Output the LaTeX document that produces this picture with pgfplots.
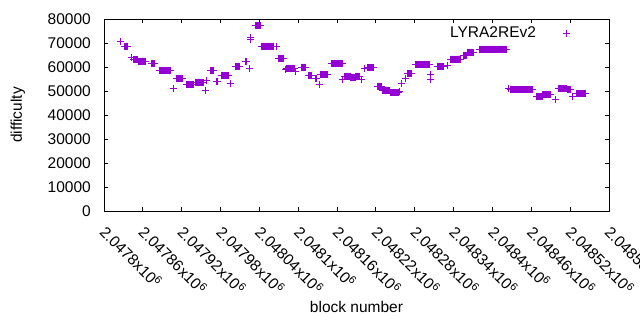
\documentclass[border=0pt]{standalone}
\usepackage{pgfplots}
\pgfplotsset{compat=1.18}
\usepackage{pgfplotstable}
\usepackage{fontspec}
\setmainfont{Liberation Sans}
\definecolor{dv}{RGB}{148,0,211}
\newcommand\F{\fontsize{15.5}{18}\selectfont}
% keep full block numbers in the data; strip the leading "20" so TeX keeps precision
\def\blkstrip#1#2#3\relax{#3}
\pgfplotstableread{
x y
2047825 70500
2047831 68700
2047832 68700
2047833 68700
2047834 68700
2047835 68700
2047836 68700
2047842 63900
2047845 63000
2047846 63000
2047847 63000
2047848 63000
2047849 63000
2047850 63000
2047851 63000
2047852 63000
2047853 62500
2047854 62500
2047855 62500
2047856 62500
2047857 62500
2047858 62500
2047859 62500
2047860 62500
2047861 62500
2047862 62500
2047863 62500
2047864 62500
2047873 61500
2047874 61500
2047875 61500
2047876 61500
2047877 61500
2047878 61500
2047885 58700
2047886 58700
2047887 58700
2047888 58700
2047889 58700
2047890 58700
2047891 58700
2047892 58700
2047893 58700
2047894 58700
2047895 58700
2047896 58700
2047897 58700
2047898 58700
2047899 58700
2047900 58700
2047901 58700
2047902 58700
2047903 58700
2047908 51200
2047912 55300
2047913 55300
2047914 55300
2047915 55300
2047916 55300
2047917 55300
2047918 55300
2047919 55300
2047920 55300
2047921 55300
2047922 55300
2047928 52800
2047929 52800
2047930 52800
2047931 52800
2047932 52800
2047933 52800
2047934 52800
2047935 52800
2047936 52800
2047937 52800
2047938 52800
2047941 53700
2047942 53700
2047943 53700
2047944 53700
2047945 53700
2047946 53700
2047947 53700
2047948 53700
2047949 53700
2047950 53700
2047951 53700
2047952 53700
2047953 53700
2047957 50400
2047959 54300
2047965 58500
2047966 58500
2047967 58500
2047968 58500
2047969 58500
2047974 53900
2047975 53900
2047981 56500
2047982 56500
2047983 56500
2047984 56500
2047985 56500
2047986 56500
2047987 56500
2047988 56500
2047989 56500
2047990 56500
2047991 56500
2047992 56500
2047993 56500
2047996 53200
2048003 60100
2048004 60100
2048005 60100
2048006 60100
2048007 60100
2048008 60100
2048009 60100
2048010 60100
2048018 62100
2048019 62100
2048020 62100
2048024 59300
2048026 71400
2048027 72400
2048034 77100
2048035 77100
2048036 77100
2048037 77100
2048038 77100
2048039 77100
2048040 77100
2048041 77100
2048044 68750
2048045 68750
2048046 68750
2048047 68750
2048048 68750
2048049 68750
2048050 68750
2048051 68750
2048052 68750
2048053 68750
2048054 68750
2048055 68750
2048056 68750
2048057 68750
2048058 68750
2048059 68750
2048060 68750
2048061 68750
2048062 68750
2048067 68470
2048069 63700
2048070 63700
2048071 63700
2048072 63700
2048073 63700
2048074 63700
2048075 63700
2048076 63700
2048077 63700
2048078 63700
2048080 58800
2048082 59500
2048083 59500
2048084 59500
2048085 59500
2048086 59500
2048087 59500
2048088 59500
2048089 59500
2048090 59500
2048091 59500
2048092 59500
2048093 59500
2048094 59500
2048096 58300
2048105 59900
2048106 59900
2048107 59900
2048108 59900
2048109 59900
2048110 59900
2048111 59900
2048116 56500
2048117 56500
2048118 56500
2048119 56500
2048120 56500
2048121 56500
2048127 55100
2048128 55100
2048133 52900
2048135 56700
2048136 56700
2048137 56700
2048138 56700
2048139 56700
2048140 56700
2048141 56700
2048142 56700
2048143 56700
2048144 56700
2048145 56700
2048151 61500
2048152 61500
2048153 61500
2048154 61500
2048155 61500
2048156 61500
2048157 61500
2048158 61500
2048159 61500
2048160 61500
2048161 61500
2048162 61500
2048163 61500
2048164 61500
2048165 61500
2048166 61500
2048167 61500
2048168 61500
2048169 54600
2048171 56200
2048172 56200
2048173 56200
2048174 56200
2048175 56200
2048176 56200
2048177 56200
2048178 56200
2048179 56200
2048180 56200
2048181 55700
2048182 55700
2048183 55700
2048184 55700
2048185 55700
2048186 55700
2048187 55700
2048188 55700
2048189 56200
2048190 56200
2048191 56200
2048192 56200
2048193 56200
2048194 56200
2048198 54800
2048202 59400
2048207 59600
2048208 59600
2048209 59600
2048210 59600
2048211 59600
2048212 59600
2048213 59600
2048214 59600
2048215 59600
2048216 59600
2048222 51800
2048223 51800
2048224 51800
2048225 51800
2048226 51800
2048227 51800
2048228 51800
2048229 51800
2048230 50400
2048231 50400
2048232 50400
2048233 50400
2048234 50400
2048235 50400
2048236 50400
2048237 50400
2048238 50400
2048239 50400
2048240 50400
2048241 50400
2048242 49400
2048243 49400
2048244 49400
2048245 49400
2048246 49400
2048247 49400
2048248 49400
2048249 49400
2048250 49400
2048251 49400
2048252 49400
2048253 49400
2048254 49400
2048255 49400
2048257 49700
2048260 53100
2048265 55300
2048268 57300
2048269 57300
2048270 57300
2048271 57300
2048272 57300
2048273 57300
2048274 57300
2048275 57300
2048281 60900
2048282 60900
2048283 60900
2048284 60900
2048285 60900
2048286 60900
2048287 60900
2048288 60900
2048289 60900
2048290 60900
2048291 60900
2048292 60900
2048293 60900
2048294 60900
2048295 61200
2048296 61200
2048297 61200
2048298 61200
2048299 61200
2048300 61200
2048301 61200
2048302 61200
2048303 61200
2048304 56700
2048305 54600
2048315 60200
2048316 60200
2048317 60200
2048318 60200
2048319 60200
2048320 60200
2048321 60200
2048322 60200
2048323 60200
2048324 60200
2048325 60200
2048331 60800
2048335 63300
2048336 63300
2048337 63300
2048338 63300
2048339 63300
2048340 63300
2048341 63300
2048342 63300
2048343 63300
2048344 63300
2048345 63300
2048346 63300
2048347 63300
2048348 63300
2048349 63300
2048350 63300
2048355 65000
2048356 65000
2048357 65000
2048358 65000
2048359 65000
2048360 65000
2048361 66200
2048362 66200
2048363 66200
2048364 66200
2048365 66200
2048366 66200
2048367 66200
2048368 66200
2048369 66200
2048370 66200
2048380 67500
2048381 67500
2048382 67500
2048383 67500
2048384 67500
2048385 67500
2048386 67500
2048387 67500
2048388 67500
2048389 67500
2048390 67500
2048391 67500
2048392 67500
2048393 67500
2048394 67500
2048395 67500
2048396 67500
2048397 67500
2048398 67500
2048399 67500
2048400 67500
2048401 67500
2048402 67500
2048403 67500
2048404 67500
2048405 67500
2048406 67500
2048407 67500
2048408 67500
2048409 67500
2048410 67500
2048411 67500
2048412 67500
2048413 67500
2048414 67500
2048415 67500
2048416 67500
2048417 67500
2048418 67500
2048419 67500
2048420 67500
2048421 67500
2048425 51100
2048428 50500
2048429 50500
2048430 50500
2048431 50500
2048432 50500
2048433 50500
2048434 50500
2048435 50500
2048436 50500
2048437 50500
2048438 50500
2048439 50500
2048440 50500
2048441 50500
2048442 50500
2048443 50500
2048444 50500
2048445 50500
2048446 50500
2048447 50500
2048448 50500
2048449 50500
2048450 50500
2048451 50500
2048452 50500
2048453 50500
2048454 50500
2048455 50500
2048456 50500
2048457 50500
2048458 50500
2048459 50500
2048460 50500
2048461 50500
2048462 50500
2048468 47800
2048469 47800
2048470 47800
2048471 47800
2048472 47800
2048473 47800
2048474 47800
2048475 47800
2048476 47800
2048477 47800
2048478 48600
2048479 48600
2048480 48600
2048481 48600
2048482 48600
2048483 48600
2048484 48600
2048485 48600
2048486 48600
2048487 48600
2048488 48600
2048489 48600
2048490 48600
2048497 46300
2048502 51100
2048503 51100
2048504 51100
2048505 51100
2048506 51100
2048507 51100
2048508 51100
2048509 51100
2048510 51100
2048511 51100
2048512 51100
2048513 51100
2048514 51100
2048515 51100
2048516 50600
2048517 50600
2048518 50600
2048519 50600
2048520 50600
2048523 47600
2048530 48900
2048531 48900
2048532 48900
2048533 48900
2048534 48900
2048535 48900
2048536 48900
2048537 48900
2048538 48900
2048539 48900
2048540 48900
2048541 48900
2048542 48900
2048543 48900
}\lyradata
\begin{document}
\begin{tikzpicture}
\useasboundingbox (0,0) rectangle (640pt,330pt);
\begin{axis}[
  at={(104pt,119pt)}, anchor=south west,
  scale only axis, width=505pt, height=192pt,
  x coord trafo/.code={\edef\blktmp{#1}\edef\pgfmathresult{\expandafter\blkstrip\blktmp\relax}},
  xmin=2047800, xmax=2048580, ymin=0, ymax=80000,
  axis line style={black, line width=1pt},
  tick align=inside, major tick length=4pt,
  every tick/.style={black, line width=1pt},
  scaled x ticks=false, scaled y ticks=false,
  xtick={2047800,2047860,2047920,2047980,2048040,2048100,2048160,2048220,2048280,2048340,2048400,2048460,2048520,2048580},
  xticklabels={2.0478x10\textsuperscript{6},2.04786x10\textsuperscript{6},2.04792x10\textsuperscript{6},2.04798x10\textsuperscript{6},2.04804x10\textsuperscript{6},2.0481x10\textsuperscript{6},2.04816x10\textsuperscript{6},2.04822x10\textsuperscript{6},2.04828x10\textsuperscript{6},2.04834x10\textsuperscript{6},2.0484x10\textsuperscript{6},2.04846x10\textsuperscript{6},2.04852x10\textsuperscript{6},2.04858x10\textsuperscript{6}},
  ytick={0,10000,20000,30000,40000,50000,60000,70000,80000},
  yticklabels={0,10000,20000,30000,40000,50000,60000,70000,80000},
  xticklabel style={font=\F, rotate=-45, anchor=north west, inner sep=0pt, xshift=12pt, yshift=-6.5pt},
  yticklabel style={font=\F, anchor=east, inner sep=0pt, xshift=-13pt},
  xlabel={block number}, ylabel={difficulty},
  xlabel style={font=\F, at={(axis description cs:0.5,0)}, anchor=base, yshift=-101pt},
  ylabel style={font=\F, at={(axis description cs:0,0.5)}, anchor=base, yshift=82pt},
  legend style={draw=none, fill=none, font=\F, inner sep=0pt, outer sep=0pt,
    at={(axis description cs:1,1)}, anchor=north east, xshift=-38pt, yshift=-6pt},
  legend plot pos=right,
  legend image code/.code={\path[draw=none] (0pt,-3.5pt) rectangle (33pt,3.5pt); \draw[#1] plot coordinates {(29pt,0pt)};},
]
\addplot[only marks, mark=+, mark size=3.5pt, color=dv, line width=1pt] table[x=x,y=y] {\lyradata};
\addlegendentry{LYRA2REv2}
\end{axis}
\end{tikzpicture}
\end{document}
